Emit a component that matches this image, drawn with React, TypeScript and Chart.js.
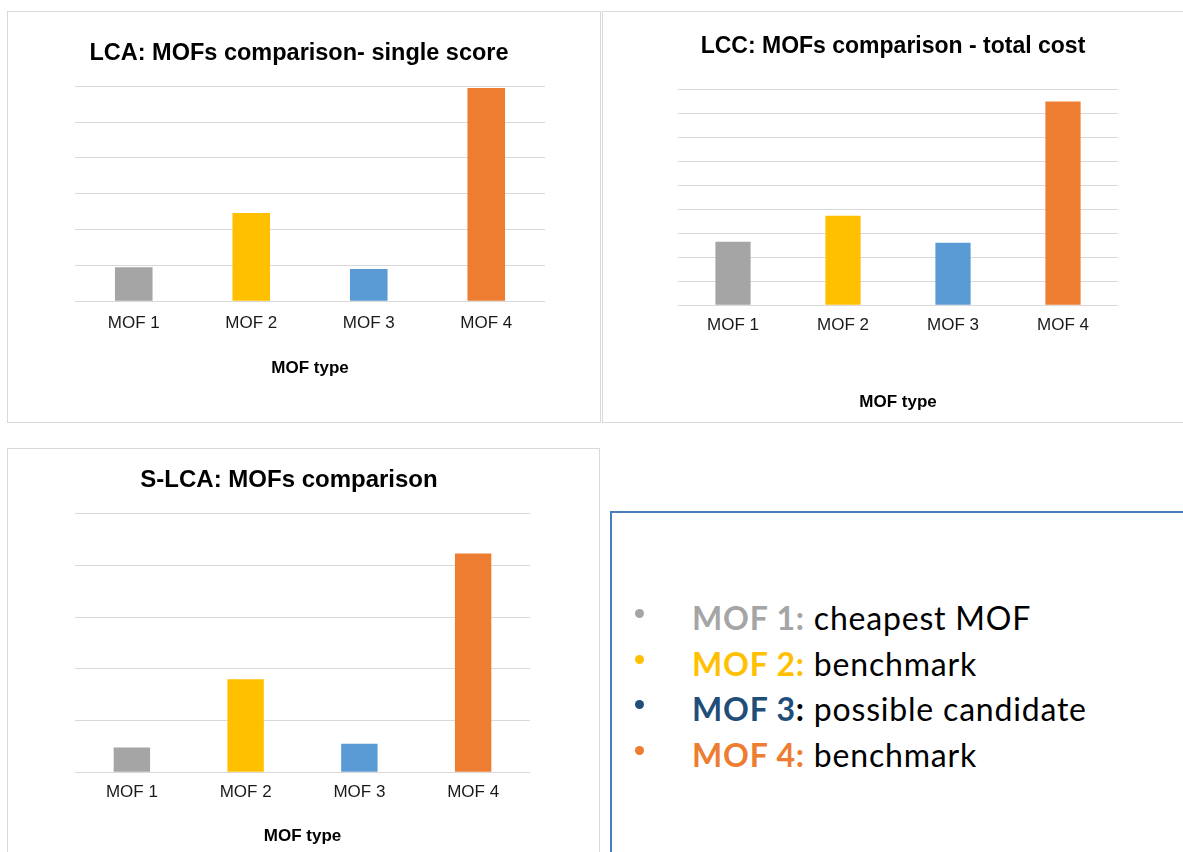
import React, { useEffect, useRef } from "react";
import { Chart, registerables } from "chart.js";

Chart.register(...registerables);

const categories = ["MOF 1", "MOF 2", "MOF 3", "MOF 4"];
const barColors = ["#a5a5a5", "#ffc000", "#5b9bd5", "#ed7d31"];
const lcaValues = [0.95, 2.46, 0.9, 5.95];
const lccValues = [2.65, 3.73, 2.61, 8.5];
const slcaValues = [0.48, 1.8, 0.55, 4.23];
const lcaTitle = "LCA: MOFs comparison- single score";
const lccTitle = "LCC: MOFs comparison - total cost";
const slcaTitle = "S-LCA: MOFs comparison";
const xAxisTitle = "MOF type";
const legendLabels = ["MOF 1", "MOF 2", "MOF 3", "MOF 4"];
const legendTexts = ["cheapest MOF", "benchmark", "possible candidate", "benchmark"];
const legendColors = ["#a5a5a5", "#ffc000", "#1f4e79", "#ed7d31"];
const legendColonColors = ["#a5a5a5", "#ffc000", "#000000", "#ed7d31"];

const FONT = "'Liberation Sans', Arial, sans-serif";

type BarProps = {
  title: string;
  titleSize: number;
  values: number[];
  yMax: number;
  width: number;
  height: number;
  yWidth: number;
  pad: { left: number; right: number; top: number; bottom: number };
  titlePad: { top: number; bottom: number };
  tickPad: number;
  axisTitlePad: { top: number; bottom: number };
};

function BarChart(p: BarProps) {
  const ref = useRef<HTMLCanvasElement | null>(null);
  useEffect(() => {
    if (!ref.current) return;
    const chart = new Chart(ref.current, {
      type: "bar",
      data: {
        labels: categories,
        datasets: [
          {
            data: p.values,
            backgroundColor: barColors,
            borderWidth: 0,
            barPercentage: 0.32,
            categoryPercentage: 1,
          },
        ],
      },
      options: {
        animation: false,
        responsive: false,
        devicePixelRatio: 1,
        layout: { padding: p.pad },
        plugins: {
          legend: { display: false },
          tooltip: { enabled: false },
          title: {
            display: true,
            text: p.title,
            color: "#000000",
            font: { family: FONT, size: p.titleSize, weight: "bold" },
            padding: p.titlePad,
          },
        },
        scales: {
          x: {
            grid: { display: false, drawTicks: false },
            border: { display: false },
            ticks: {
              color: "#1a1a1a",
              font: { family: FONT, size: 17 },
              padding: p.tickPad,
              maxRotation: 0,
            },
            title: {
              display: true,
              text: xAxisTitle,
              color: "#000000",
              font: { family: FONT, size: 17, weight: "bold" },
              padding: p.axisTitlePad,
            },
          },
          y: {
            min: 0,
            max: p.yMax,
            ticks: { display: false, stepSize: 1 },
            grid: { color: "#d9d9d9", lineWidth: 1, drawTicks: false },
            border: { display: false },
            afterFit: (scale: any) => {
              scale.width = p.yWidth;
            },
          },
        },
      },
    });
    return () => chart.destroy();
  }, []);
  return <canvas ref={ref} width={p.width} height={p.height} style={{ display: "block" }} />;
}

export default function App() {
  return (
    <div
      style={{
        position: "absolute",
        left: 0,
        top: 0,
        width: 1183,
        height: 852,
        overflow: "hidden",
        background: "#ffffff",
      }}
    >
      {/* LCA panel */}
      <div
        style={{
          position: "absolute",
          left: 7,
          top: 11,
          width: 594,
          height: 412,
          border: "1px solid #d9d9d9",
          boxSizing: "border-box",
        }}
      >
        <BarChart
          title={lcaTitle}
          titleSize={23.5}
          values={lcaValues}
          yMax={6}
          width={592}
          height={410}
          yWidth={22}
          pad={{ left: 45, right: 55, top: 0, bottom: 43 }}
          titlePad={{ top: 27, bottom: 19 }}
          tickPad={11.5}
          axisTitlePad={{ top: 14, bottom: 0 }}
        />
      </div>
      {/* LCC panel */}
      <div
        style={{
          position: "absolute",
          left: 602,
          top: 11,
          width: 600,
          height: 412,
          border: "1px solid #d9d9d9",
          boxSizing: "border-box",
        }}
      >
        <BarChart
          title={lccTitle}
          titleSize={23}
          values={lccValues}
          yMax={9}
          width={580}
          height={410}
          yWidth={10}
          pad={{ left: 65, right: 65, top: 0, bottom: 9 }}
          titlePad={{ top: 21, bottom: 29 }}
          tickPad={10}
          axisTitlePad={{ top: 47, bottom: 0 }}
        />
      </div>
      {/* S-LCA panel */}
      <div
        style={{
          position: "absolute",
          left: 7,
          top: 448,
          width: 593,
          height: 500,
          border: "1px solid #d9d9d9",
          boxSizing: "border-box",
        }}
      >
        <BarChart
          title={slcaTitle}
          titleSize={24}
          values={slcaValues}
          yMax={5}
          width={591}
          height={403}
          yWidth={27}
          pad={{ left: 40, right: 69, top: 0, bottom: 5 }}
          titlePad={{ top: 17, bottom: 19 }}
          tickPad={10}
          axisTitlePad={{ top: 14, bottom: 0 }}
        />
      </div>
      {/* legend text box */}
      <div
        style={{
          position: "absolute",
          left: 610,
          top: 511,
          width: 600,
          height: 400,
          border: "2px solid #4a7ebb",
          boxSizing: "border-box",
          fontFamily: "Lato, 'Open Sans', sans-serif",
          fontSize: 32,
          letterSpacing: "0.8px",
        }}
      >
        {legendLabels.map((lab, i) => (
          <div
            key={lab}
            style={{
              position: "absolute",
              left: 0,
              top: 86 + i * 45.5,
              height: 38,
              lineHeight: "38px",
              whiteSpace: "nowrap",
            }}
          >
            <span
              style={{
                position: "absolute",
                left: 23,
                top: 10,
                width: 9,
                height: 9,
                borderRadius: "50%",
                background: legendColors[i],
              }}
            />
            <span style={{ position: "absolute", left: 80 }}>
              <b style={{ color: legendColors[i] }}>{lab}</b>
              <b style={{ color: legendColonColors[i] }}>:</b>
              <span style={{ color: "#000000" }}> {legendTexts[i]}</span>
            </span>
          </div>
        ))}
      </div>
    </div>
  );
}
